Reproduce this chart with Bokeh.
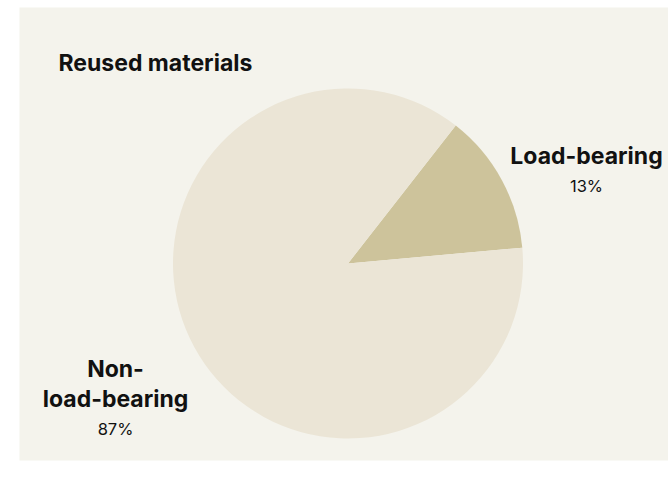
import math
from bokeh.plotting import figure
from bokeh.models import Range1d, ColumnDataSource
from bokeh.core.properties import value
from bokeh.embed import file_html
from bokeh.resources import INLINE

# ---- data ----
title_text = "Reused materials"
categories = ["Load-bearing", "Non-load-bearing"]
shares = [13, 87]
label_lines = [["Load-bearing"], ["Non-", "load-bearing"]]

# ---- style ----
colors = ["#cdc39b", "#ebe5d6"]
panel_bg = "#f4f3ec"
FONT = "Inter"
W, H = 668, 488
cx, cy, R = 347.5, 488 - 263, 175
start_deg = 5.2  # where the first slice starts (ccw from +x)

p = figure(width=W, height=H, output_backend="svg", toolbar_location=None,
           x_range=Range1d(19, 668), y_range=Range1d(28, 481),
           min_border_left=19, min_border_right=0, min_border_top=7, min_border_bottom=28)
p.background_fill_color = panel_bg
p.border_fill_color = "white"
p.outline_line_color = None
p.axis.visible = False
p.grid.visible = False

total = sum(shares)
starts, ends = [], []
a = math.radians(start_deg)
for s in shares:
    starts.append(a)
    a += 2 * math.pi * s / total
    ends.append(a)
src = ColumnDataSource(dict(cat=categories, share=shares, start=starts, end=ends, color=colors))
p.wedge(x=cx, y=cy, radius=R, start_angle="start", end_angle="end",
        fill_color="color", line_color=None, source=src)

# title
p.text(x=[58], y=[488 - 62], text=[title_text], text_font=value(FONT),
       text_font_size="23px", text_font_style="bold", text_color="#111111",
       text_align="left", text_baseline="alphabetic")

# labels
label_pos = [(586, 488 - 155), (115, 488 - 398)]
for lines, share, (lx, ly) in zip(label_lines, shares, label_pos):
    n = len(lines)
    ys = [ly + (n - 1 - i) * 30 for i in range(n)]
    p.text(x=[lx] * n, y=ys, text=lines, text_font=value(FONT),
           text_font_size="23px", text_font_style="bold", text_color="#111111",
           text_align="center", text_baseline="alphabetic")
    p.text(x=[lx], y=[ly - 30], text=[f"{share}%"], text_font=value(FONT),
           text_font_size="16.5px", text_color="#111111",
           text_align="center", text_baseline="alphabetic")

open("out.html", "w").write(file_html(p, INLINE))
